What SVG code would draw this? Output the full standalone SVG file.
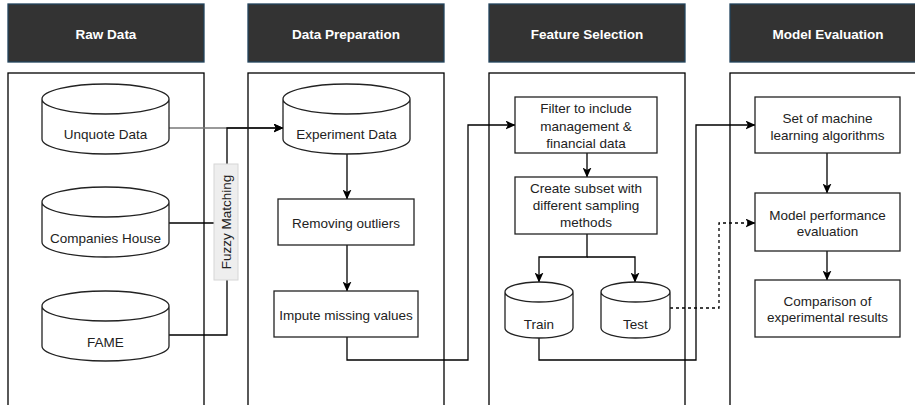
<svg xmlns="http://www.w3.org/2000/svg" width="915" height="405" viewBox="0 0 915 405">
<defs>
<marker id="arr" markerUnits="userSpaceOnUse" markerWidth="10" markerHeight="9" refX="9.5" refY="4.5" orient="auto">
<path d="M0,0 L10,4.5 L0,9 L2.5,4.5 Z" fill="#000"/>
</marker>
</defs>
<style>
.hdr{fill:#333333;stroke:#23445d;stroke-width:1.3}
.htxt{font-family:"Liberation Sans",Arial,sans-serif;font-size:13.5px;font-weight:bold;fill:#ffffff;text-anchor:middle}
.lane{fill:#ffffff;stroke:#000;stroke-width:1.3}
.box{fill:#ffffff;stroke:#222;stroke-width:1.3}
.txt{font-family:"Liberation Sans",Arial,sans-serif;font-size:13.5px;fill:#222;text-anchor:middle}
.ln{fill:none;stroke:#000;stroke-width:1.3}
.grey{fill:none;stroke:#777;stroke-width:1.3}
.dash{fill:none;stroke:#000;stroke-width:1.3;stroke-dasharray:3,3}
</style>
<g id="lanes">
<g id="lane-raw"><rect class="hdr" x="8" y="4" width="196" height="58"/><text class="htxt" x="106" y="39">Raw Data</text><rect class="lane" x="8" y="73" width="196" height="345"/></g>
<g id="lane-prep"><rect class="hdr" x="248" y="4" width="196" height="58"/><text class="htxt" x="346" y="39">Data Preparation</text><rect class="lane" x="248" y="73" width="196" height="345"/></g>
<g id="lane-feat"><rect class="hdr" x="489" y="4" width="196" height="58"/><text class="htxt" x="587" y="39">Feature Selection</text><rect class="lane" x="489" y="73" width="196" height="345"/></g>
<g id="lane-eval"><rect class="hdr" x="730" y="4" width="196" height="58"/><text class="htxt" x="828" y="39">Model Evaluation</text><rect class="lane" x="730" y="73" width="196" height="345"/></g>
</g>
<g id="connectors">
<path class="grey" d="M169,128 H283" marker-end="url(#arr)"/>
<path class="ln" d="M227,164 V128 H283" marker-end="url(#arr)"/>
<path class="ln" d="M169,223 H214"/>
<path class="ln" d="M169,335 H227 V280"/>
<path class="ln" d="M347,154 V199" marker-end="url(#arr)"/>
<path class="ln" d="M347,245 V291" marker-end="url(#arr)"/>
<path class="ln" d="M347,337 V360 H468 V125 H515" marker-end="url(#arr)"/>
<path class="ln" d="M587,153 V177" marker-end="url(#arr)"/>
<path class="ln" d="M587,234 V257 H539 V282" marker-end="url(#arr)"/>
<path class="ln" d="M587,257 H635 V282" marker-end="url(#arr)"/>
<path class="ln" d="M539,338 V360 H696 V125 H755" marker-end="url(#arr)"/>
<path class="dash" d="M670,308 H719 V223 H755" marker-end="url(#arr)"/>
<path class="ln" d="M827,153 V193" marker-end="url(#arr)"/>
<path class="ln" d="M827,251 V280" marker-end="url(#arr)"/>
</g>
<g id="fuzzy-matching">
<rect x="214" y="164" width="24" height="116" fill="#eeeeee" stroke="#d6d6d6" stroke-width="1"/>
<text class="txt" transform="translate(231,222) rotate(-90)" x="0" y="0">Fuzzy Matching</text>
</g>
<g id="unquote-data">
<path class="box" d="M42,99 A63.5,15 0 0 1 169,99 V139 A63.5,15 0 0 1 42,139 Z M42,99 A63.5,15 0 0 0 169,99"/>
<text class="txt" x="105.5" y="139">Unquote Data</text>
</g>
<g id="companies-house">
<path class="box" d="M42,202 A63.5,15 0 0 1 169,202 V242 A63.5,15 0 0 1 42,242 Z M42,202 A63.5,15 0 0 0 169,202"/>
<text class="txt" x="105.5" y="243">Companies House</text>
</g>
<g id="fame">
<path class="box" d="M42,306 A63.5,15 0 0 1 169,306 V346 A63.5,15 0 0 1 42,346 Z M42,306 A63.5,15 0 0 0 169,306"/>
<text class="txt" x="105.5" y="347">FAME</text>
</g>
<g id="experiment-data">
<path class="box" d="M283,99 A63.5,15 0 0 1 410,99 V139 A63.5,15 0 0 1 283,139 Z M283,99 A63.5,15 0 0 0 410,99"/>
<text class="txt" x="346.5" y="139">Experiment Data</text>
</g>
<g id="removing-outliers">
<rect class="box" x="278" y="199" width="136" height="46"/>
<text class="txt" x="346" y="228">Removing outliers</text>
</g>
<g id="impute-missing">
<rect class="box" x="274" y="291" width="144" height="46"/>
<text class="txt" x="346" y="320">Impute missing values</text>
</g>
<g id="filter">
<rect class="box" x="515" y="97" width="142" height="56"/>
<text class="txt" x="586" y="113">Filter to include</text>
<text class="txt" x="586" y="131">management &amp;</text>
<text class="txt" x="586" y="148">financial data</text>
</g>
<g id="create-subset">
<rect class="box" x="515" y="177" width="142" height="57"/>
<text class="txt" x="586" y="193">Create subset with</text>
<text class="txt" x="586" y="210">different sampling</text>
<text class="txt" x="586" y="227">methods</text>
</g>
<g id="train">
<path class="box" d="M505,292 A34,10 0 0 1 573,292 V328 A34,10 0 0 1 505,328 Z M505,292 A34,10 0 0 0 573,292"/>
<text class="txt" x="539" y="329">Train</text>
</g>
<g id="test">
<path class="box" d="M601,292 A34.5,10 0 0 1 670,292 V328 A34.5,10 0 0 1 601,328 Z M601,292 A34.5,10 0 0 0 670,292"/>
<text class="txt" x="635.5" y="329">Test</text>
</g>
<g id="ml-algorithms">
<rect class="box" x="755" y="97" width="145" height="56"/>
<text class="txt" x="827.5" y="123">Set of machine</text>
<text class="txt" x="827.5" y="140">learning algorithms</text>
</g>
<g id="model-performance">
<rect class="box" x="755" y="193" width="145" height="58"/>
<text class="txt" x="827.5" y="220">Model performance</text>
<text class="txt" x="827.5" y="236">evaluation</text>
</g>
<g id="comparison">
<rect class="box" x="755" y="280" width="145" height="57"/>
<text class="txt" x="827.5" y="306">Comparison of</text>
<text class="txt" x="827.5" y="322">experimental results</text>
</g>
</svg>
